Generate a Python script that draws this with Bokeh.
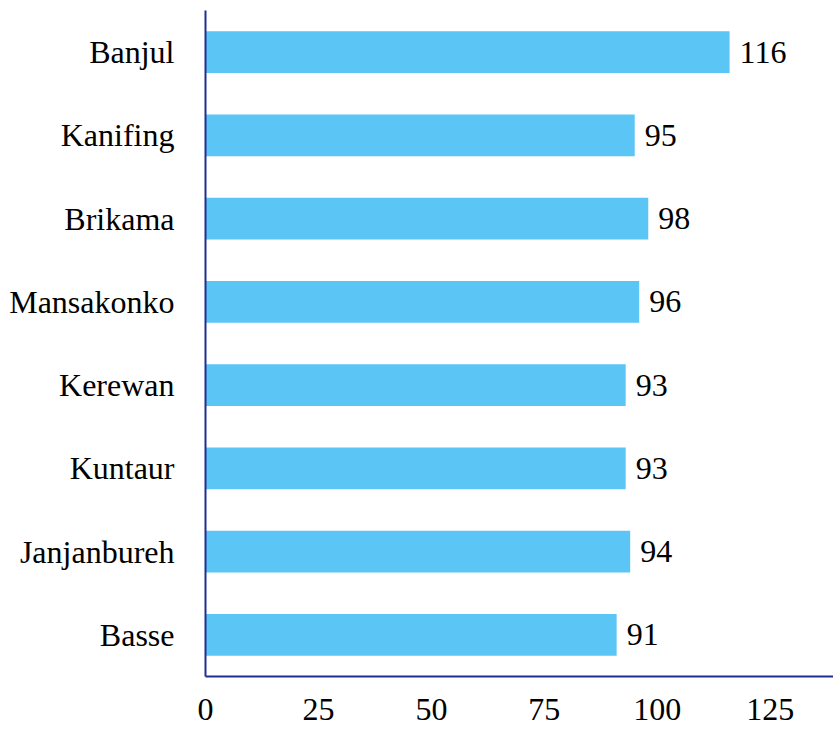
from bokeh.plotting import figure
from bokeh.models import ColumnDataSource, FactorRange, Range1d, FixedTicker
from bokeh.core.properties import value
from bokeh.embed import file_html
from bokeh.resources import INLINE

regions = ["Banjul", "Kanifing", "Brikama", "Mansakonko", "Kerewan", "Kuntaur", "Janjanbureh", "Basse"]
values = [116, 95, 98, 96, 93, 93, 94, 91]
x_ticks = [0, 25, 50, 75, 100, 125]

factors = list(reversed(regions))
src = ColumnDataSource(dict(region=regions, val=values, lbl=[str(v) for v in values]))

p = figure(width=833, height=735, output_backend="svg", toolbar_location=None,
           y_range=FactorRange(*factors, range_padding=0), x_range=Range1d(0, 139),
           min_border_left=205, min_border_right=0, min_border_top=10, min_border_bottom=59)
p.hbar(y="region", right="val", left=0, height=0.5, source=src, color="#5bc5f5", line_color=None)
p.text(x="val", y="region", text="lbl", source=src, x_offset=10, text_baseline="middle",
       text_align="left", text_font=value("Liberation Serif"), text_font_size="32px", text_color="black")

p.outline_line_color = None
p.grid.grid_line_color = None
p.background_fill_color = "white"
p.border_fill_color = "white"

for ax in (p.xaxis, p.yaxis):
    ax.axis_line_color = "#1f2f8f"
    ax.axis_line_width = 2
    ax.major_tick_line_color = None
    ax.minor_tick_line_color = None
    ax.major_label_text_font = "Liberation Serif"
    ax.major_label_text_font_size = "32px"
    ax.major_label_text_color = "black"

p.xaxis.ticker = FixedTicker(ticks=x_ticks)
p.xaxis.major_label_standoff = 16
p.yaxis.major_label_standoff = 25

open("out.html", "w").write(file_html(p, INLINE))
